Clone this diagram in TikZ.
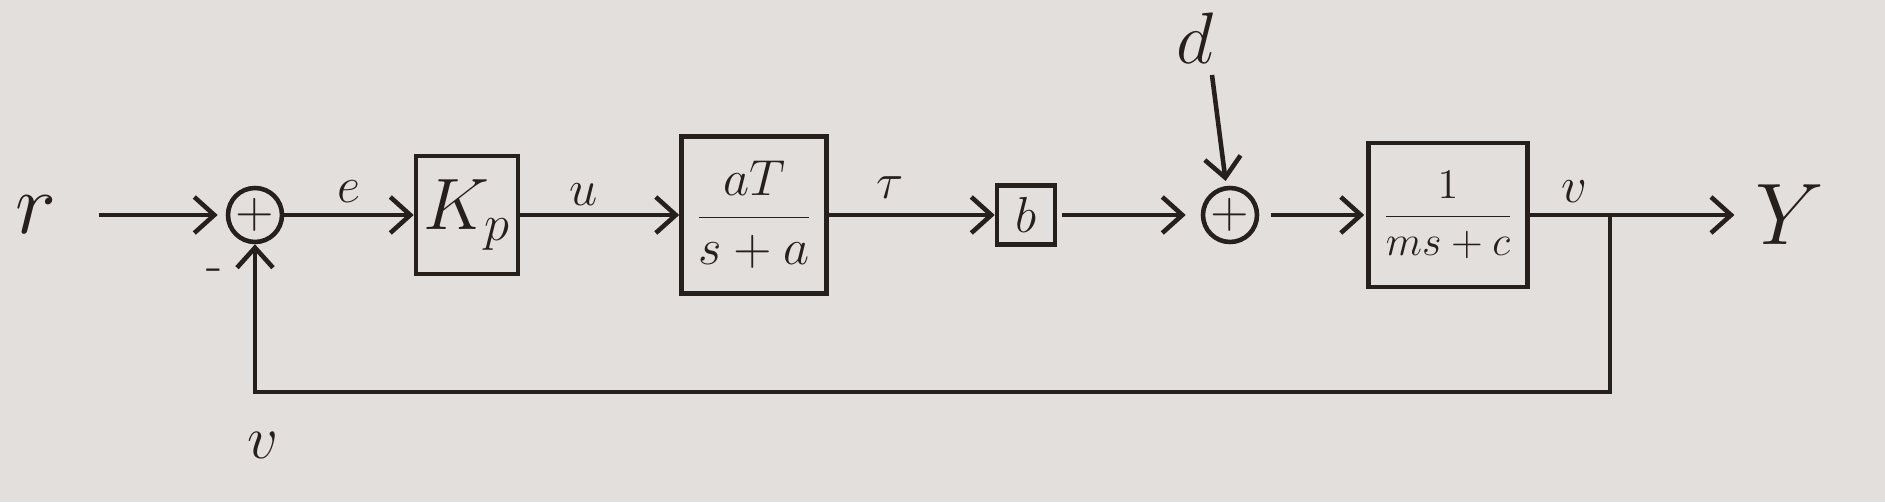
\documentclass[tikz,border=0pt]{standalone}
\usetikzlibrary{arrows.meta}
\definecolor{paper}{RGB}{226,223,221}
\definecolor{ink}{RGB}{38,32,28}
\newcommand{\fsz}[1]{\fontsize{#1}{#1}\selectfont}
\begin{document}
\begin{tikzpicture}[
    ink line/.style={draw=ink, line width=1.3pt},
    blk/.style={ink line, rectangle, inner sep=0pt, text=ink},
    summer/.style={ink line, circle, minimum size=0.54cm, inner sep=0pt, text=ink, font=\fsz{14}},
    lbl/.style={text=ink, inner sep=1pt},
    sig/.style={ink line, -{Straight Barb[length=2mm,width=3.6mm,line width=1.3pt]}}
  ]
  \fill[paper] (0,0) rectangle (18.85,5.02);
  \draw
    (0.36,2.87) node[lbl, font=\fsz{24}] (r){$r$}
    (2.55,2.87) node[summer] (s1){$+$}
    (2.14,2.27) node[lbl, font=\fsz{15}] (minus){-}
    (4.67,2.87) node[blk, minimum width=1.02cm, minimum height=1.18cm, font=\fsz{20}] (Kp){$K_p$}
    (7.54,2.87) node[blk, minimum width=1.45cm, minimum height=1.57cm, font=\fsz{15}] (G1){$\displaystyle\frac{aT}{s+a}$}
    (10.26,2.87) node[blk, minimum width=0.58cm, minimum height=0.59cm, font=\fsz{15}] (b){$b$}
    (12.30,2.87) node[summer] (s2){$+$}
    (11.95,4.64) node[lbl, font=\fsz{20}] (d){$d$}
    (14.48,2.87) node[blk, minimum width=1.59cm, minimum height=1.44cm, font=\fsz{12}] (G2){$\displaystyle\frac{1}{ms+c}$}
    (17.90,2.87) node[lbl, font=\fsz{28}] (Y){$Y$}
    (2.63,0.57) node[lbl, font=\fsz{18}] (vb){$v$};
  \coordinate (dtop) at (12.12,4.27);
  \coordinate (br) at (16.10,2.87);
  \coordinate (fbr) at (16.10,1.10);
  \begin{scope}[sig]
    \draw[shorten <=0.38cm, shorten >=0.08cm] (r) -- (s1);
    \draw (s1) -- node[lbl, above=2pt, font=\fsz{15}] {$e$} (Kp);
    \draw (Kp) -- node[lbl, above=1pt, pos=0.4, font=\fsz{15}] {$u$} (G1);
    \draw (G1) -- node[lbl, above=3pt, pos=0.37, font=\fsz{15}] {$\tau$} (b);
    \draw[shorten <=0.05cm, shorten >=0.15cm] (b) -- (s2);
    \draw[shorten >=0.05cm] (dtop) -- (s2);
    \draw[shorten <=0.12cm, shorten >=0.02cm] (s2) -- (G2);
    \draw[shorten >=0.17cm] (G2) -- node[lbl, above=2pt, pos=0.2, font=\fsz{15}] {$v$} (Y);
    \draw (br) -- (fbr) -| (s1);
  \end{scope}
\end{tikzpicture}
\end{document}
